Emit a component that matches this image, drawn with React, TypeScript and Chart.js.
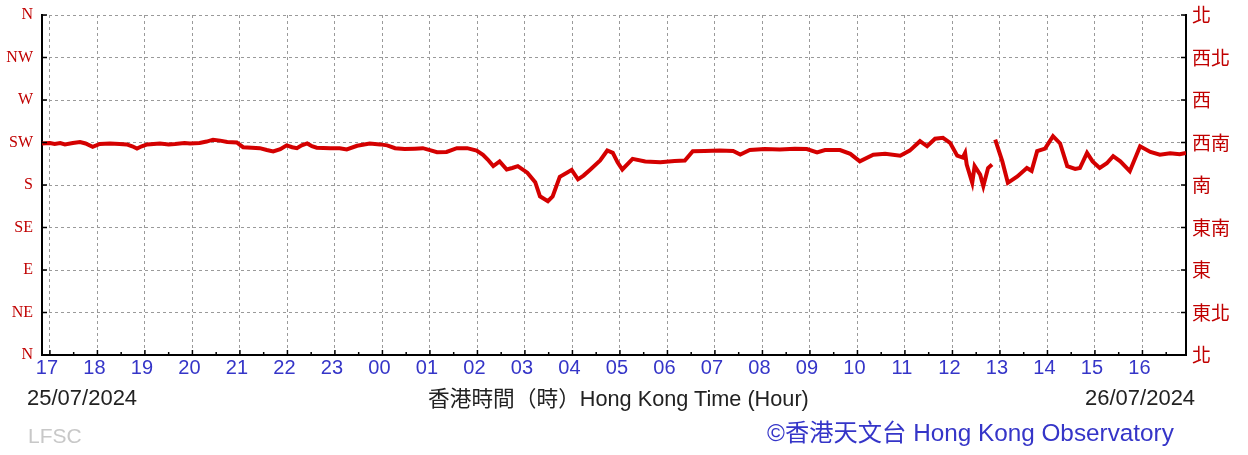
import React, { useEffect, useRef } from 'react';
import { Chart, registerables } from 'chart.js';
Chart.register(...registerables);

const hourLabels = ['17','18','19','20','21','22','23','00','01','02','03','04','05','06','07','08','09','10','11','12','13','14','15','16'];
const dirLabelsEn = ['N','NE','E','SE','S','SW','W','NW','N'];
const dirLabelsZh = ['北','東北','東','東南','南','西南','西','西北','北'];

// minutes after 17:00 on 25/07/2024
const minutes = [
  -10,0,6,13,19,29,38,45,54,63,76,88,97,104,110,116,123,139,150,158,170,177,189,198,206,215,224,236,244,255,265,274,282,291,299,306,312,318,325,331,337,354,366,375,388,404,417,426,436,448,461,471,480,489,501,514,527,539,547,553,560,568,577,584,591,603,613,619,625,629,635,644,653,659,667,674,682,695,704,711,717,723,736,752,771,789,802,812,827,846,863,872,884,903,922,941,956,969,979,998,1011,1023,1040,1055,1074,1086,1099,1108,1118,1128,1137,1146,1153,1156,1158,1165,1168,1175,1179,1185,1190,1192,1194,1203,1210,1222,1234,1240,1247,1257,1267,1276,1285,1295,1301,1310,1317,1326,1335,1343,1352,1364,1377,1390,1402,1415,1427,1435
];
// wind direction, degrees
const directions: (number | null)[] = [
  224,224.5,223.5,224.5,223,224.5,225.5,224,220.5,223.5,224,223.5,223,221,218.6,221,223,224,223,223.5,224.5,224,224.5,226,228,227,225.5,225,220,219.5,219,217,215.5,218,222,220,219,222,224,221,219.5,219,219,217.6,221.5,224,223,222,219,218,218.5,219,217,214.7,215,219,219,216.4,212,207,200,205,196.4,198,200,193,183,168,165,162.9,168,188.7,193,196,186,190,196,206,216.5,214,204,196.4,207.7,205,204,205.5,206,215.8,216,216.5,216,212.3,217,218,217.5,218.5,218,214.6,217,217,213,205,212,213,211,216.4,226.4,221,229,230,224.7,211,209,214,201.7,182.3,200,191,178.8,198,201.7,null,228,205,182.3,189,198,195,215.8,218.5,231.7,224,200,197,198,214,205,198,203,210.5,205,194.6,221,215,212,213.5,212.5,214
];

const RED = '#d40000';
const LABEL_RED = '#c00000';
const BLUE = '#3535c8';

const tickPlugin = {
  id: 'axisTicks',
  afterDraw(chart: any) {
    const { ctx, chartArea, scales } = chart;
    ctx.save();
    ctx.strokeStyle = '#000';
    ctx.lineWidth = 1.5;
    const xs = scales.x;
    for (let m = 0; m <= 1435; m += 30) {
      const px = xs.getPixelForValue(m);
      const len = m % 60 === 0 ? 5 : 3;
      ctx.beginPath();
      ctx.moveTo(px, chartArea.bottom);
      ctx.lineTo(px, chartArea.bottom - len);
      ctx.stroke();
    }
    const ys = scales.y;
    for (let d = 0; d <= 360; d += 45) {
      const py = ys.getPixelForValue(d);
      ctx.beginPath();
      ctx.moveTo(chartArea.left, py);
      ctx.lineTo(chartArea.left + 5, py);
      ctx.moveTo(chartArea.right, py);
      ctx.lineTo(chartArea.right - 5, py);
      ctx.stroke();
    }
    ctx.restore();
  },
};

export default function App() {
  const ref = useRef<HTMLCanvasElement>(null);
  useEffect(() => {
    if (!ref.current) return;
    const chart = new Chart(ref.current, {
      type: 'line',
      data: {
        datasets: [
          {
            data: minutes.map((m, i) => ({ x: m, y: directions[i] })) as any,
            borderColor: RED,
            backgroundColor: RED,
            borderWidth: 4,
            pointRadius: 0,
            tension: 0,
            spanGaps: false,
          },
        ],
      },
      plugins: [tickPlugin],
      options: {
        animation: false,
        responsive: false,
        maintainAspectRatio: false,
        devicePixelRatio: 1,
        layout: { padding: { top: 15, left: 0, right: 0, bottom: 0 } },
        plugins: { legend: { display: false }, tooltip: { enabled: false } },
        scales: {
          x: {
            type: 'linear',
            min: -10,
            max: 1435,
            afterBuildTicks: (s: any) => {
              s.ticks = hourLabels.map((_, i) => ({ value: i * 60 }));
            },
            afterFit: (s: any) => {
              s.height = 100;
            },
            ticks: {
              autoSkip: false,
              maxRotation: 0,
              padding: 1,
              labelOffset: -3,
              color: BLUE,
              font: { family: 'Liberation Sans', size: 20 },
              callback: (_v: any, i: number) => hourLabels[i],
            },
            grid: { color: '#9a9a9a', lineWidth: 1, drawTicks: false },
            border: { display: true, color: '#000', width: 2, dash: [3, 3] },
          },
          y: {
            type: 'linear',
            position: 'left',
            min: 0,
            max: 360,
            afterBuildTicks: (s: any) => {
              s.ticks = dirLabelsEn.map((_, i) => ({ value: i * 45 }));
            },
            afterFit: (s: any) => {
              s.width = 42;
              s.paddingTop = 0;
              s.paddingBottom = 0;
            },
            ticks: {
              padding: 9,
              color: LABEL_RED,
              font: { family: 'Liberation Serif', size: 16 },
              callback: (v: any) => dirLabelsEn[Math.round(v / 45)],
            },
            grid: { color: '#9a9a9a', lineWidth: 1, drawTicks: false },
            border: { display: true, color: '#000', width: 2, dash: [3, 3] },
          },
          y2: {
            type: 'linear',
            position: 'right',
            min: 0,
            max: 360,
            afterBuildTicks: (s: any) => {
              s.ticks = dirLabelsZh.map((_, i) => ({ value: i * 45 }));
            },
            afterFit: (s: any) => {
              s.width = 62;
              s.paddingTop = 0;
              s.paddingBottom = 0;
            },
            ticks: {
              padding: 6,
              color: LABEL_RED,
              font: { family: 'Noto Sans CJK TC', size: 19 },
              callback: (v: any) => dirLabelsZh[Math.round(v / 45)],
            },
            grid: { display: false, drawTicks: false },
            border: { display: true, color: '#000', width: 2 },
          },
        },
      },
    });
    return () => chart.destroy();
  }, []);

  const txt: React.CSSProperties = {
    position: 'absolute',
    whiteSpace: 'nowrap',
    lineHeight: 1,
    fontFamily: "'Liberation Sans', 'Noto Sans CJK TC', sans-serif",
  };

  return (
    <div style={{ position: 'fixed', left: 0, top: 0, width: 1248, height: 455, background: '#fff', overflow: 'hidden' }}>
      <canvas ref={ref} width={1248} height={455} style={{ position: 'absolute', left: 0, top: 0, width: 1248, height: 455 }} />
      <div style={{ ...txt, left: 27, top: 387, fontSize: 22, color: '#222' }}>25/07/2024</div>
      <div style={{ ...txt, left: 1085, top: 387, fontSize: 22, color: '#222' }}>26/07/2024</div>
      <div style={{ ...txt, left: 428, top: 388, fontSize: 21.7, color: '#222' }}>
        香港時間（時）Hong Kong Time (Hour)
      </div>
      <div style={{ ...txt, left: 28, top: 425, fontSize: 21, color: '#c8c8c8' }}>LFSC</div>
      <div style={{ ...txt, left: 767, top: 421, fontSize: 24.3, color: BLUE }}>©香港天文台 Hong Kong Observatory</div>
    </div>
  );
}
